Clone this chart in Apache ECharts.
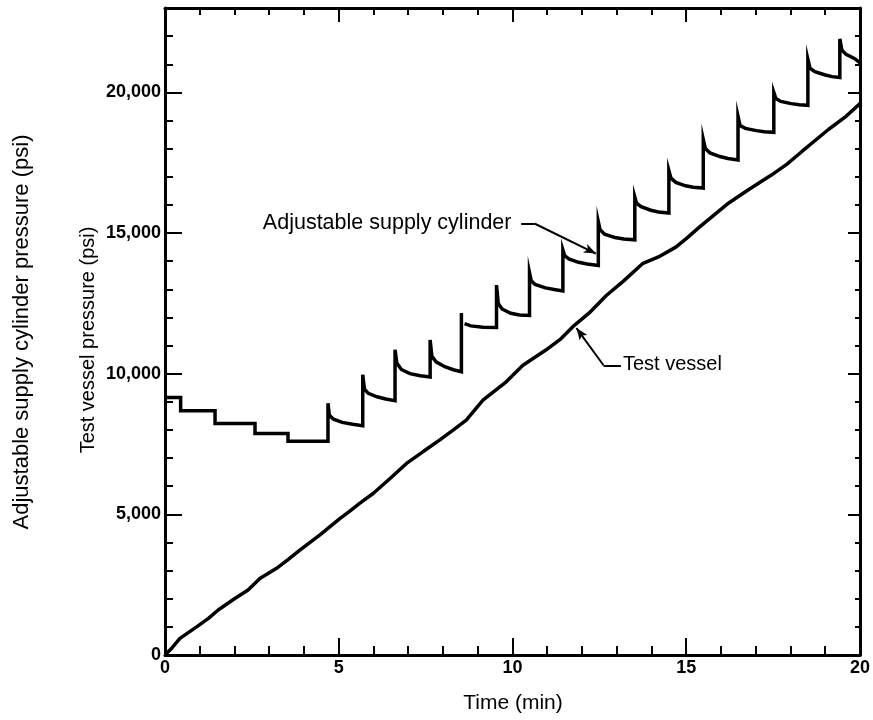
<!DOCTYPE html>
<html>
<head>
<meta charset="utf-8">
<script src="https://cdn.jsdelivr.net/npm/echarts@6/dist/echarts.min.js"></script>
<style>
html,body{margin:0;padding:0;background:#fff;}
#chart{width:873px;height:720px;}
</style>
</head>
<body>
<div id="chart"></div>
<script>
// ---- data (time in min, pressure in psi) ----
const xTickValues = [0, 5, 10, 15, 20];
const xTickLabels = ['0', '5', '10', '15', '20'];
const yTickValues = [0, 5000, 10000, 15000, 20000];
const yTickLabels = ['0', '5,000', '10,000', '15,000', '20,000'];

const supplyTime = [
  0, 0.45, 0.45, 1.44, 1.44, 2.59, 2.59, 3.54, 3.54, 4.69,
  4.69, 4.73, 4.85, 5.1, 5.4, 5.69,
  5.69, 5.74, 5.85, 6.1, 6.35, 6.62,
  6.62, 6.67, 6.8, 7.05, 7.35, 7.63,
  7.63, 7.68, 7.8, 8.05, 8.3, 8.53,
  8.53, null, 8.62, 8.8, 9.15, 9.54,
  9.54, 9.59, 9.7, 9.95, 10.2, 10.49,
  10.49, 10.54, 10.65, 10.95, 11.2, 11.45,
  11.45, 11.5, 11.62, 11.9, 12.15, 12.47,
  12.47, 12.52, 12.65, 12.95, 13.2, 13.52,
  13.52, 13.57, 13.7, 13.98, 14.2, 14.5,
  14.5, 14.56, 14.7, 14.98, 15.2, 15.49,
  15.49, 15.55, 15.68, 15.97, 16.2, 16.49,
  16.49, 16.55, 16.7, 17.02, 17.25, 17.52,
  17.52, 17.58, 17.72, 18.02, 18.25, 18.5,
  18.5, 18.56, 18.7, 19.0, 19.2, 19.42,
  19.42, 19.48, 19.6, 19.85, 20
];
const supplyPressure = [
  9150, 9150, 8680, 8680, 8230, 8230, 7875, 7875, 7600, 7600,
  8950, 8520, 8380, 8270, 8200, 8150,
  9960, 9450, 9300, 9180, 9100, 9040,
  10850, 10380, 10150, 10000, 9930, 9880,
  11200, 10620, 10420, 10250, 10140, 10070,
  12160, null, 11780, 11700, 11650, 11640,
  13150, 12500, 12300, 12150, 12090, 12070,
  13590, 13300, 13170, 13050, 12990, 12940,
  14400, 14200, 14080, 13960, 13900, 13850,
  15400, 15120, 14960, 14840, 14790, 14760,
  16280, 16060, 15940, 15810, 15750, 15710,
  17220, 16950, 16800, 16680, 16630, 16600,
  18330, 18000, 17850, 17720, 17650, 17600,
  19150, 18820, 18720, 18640, 18600, 18580,
  20000, 19780, 19680, 19600, 19560, 19540,
  21180, 20860, 20740, 20620, 20560, 20530,
  21900, 21500, 21350, 21200, 21050
];

const vesselTime = [
  0, 0.2, 0.43, 0.91, 1.25, 1.53, 2.01, 2.39, 2.73, 3.21, 3.55, 3.88, 4.45,
  5.03, 5.3, 5.6, 5.99, 6.5, 6.95, 7.45, 7.9, 8.3, 8.67, 9.15, 9.82, 10.3,
  10.97, 11.4, 11.78, 12.2, 12.7, 13.2, 13.74, 14.2, 14.7, 15.0, 15.37,
  16.18, 16.8, 17.45, 17.9, 18.33, 19.1, 19.6, 20
];
const vesselPressure = [
  0, 250, 590, 1000, 1300, 1600, 2010, 2310, 2720, 3080, 3400, 3730, 4260,
  4850, 5100, 5390, 5740, 6300, 6810, 7250, 7640, 8000, 8350, 9060, 9710, 10300,
  10850, 11250, 11720, 12150, 12780, 13300, 13910, 14150, 14500, 14800, 15200,
  16030, 16550, 17060, 17450, 17900, 18690, 19150, 19600
];

// annotation anchors (data coordinates)
const supplyLabel = { text: 'Adjustable supply cylinder', at: [9.97, 15340] };
const supplyLeader = [[10.25, 15340], [10.63, 15340], [12.40, 14270]];
const vesselLabel = { text: 'Test vessel', at: [13.18, 10340] };
const vesselLeader = [[13.12, 10300], [12.62, 10300], [11.84, 11620]];

// ---- build ----
const supplyData = supplyTime.map((t, i) => (t === null ? [null, null] : [t, supplyPressure[i]]));
const vesselData = vesselTime.map((t, i) => [t, vesselPressure[i]]);

const black = '#000';
const fontMain = '"Liberation Sans", Arial, Helvetica, sans-serif';

function xAx(pos, interval, len, showLine, showLabel) {
  return {
    type: 'value', position: pos, min: 0, max: 20, interval: interval,
    axisLine: { show: showLine, onZero: false, lineStyle: { color: black, width: 3 } },
    axisTick: { show: true, inside: true, length: len, lineStyle: { color: black, width: 2 } },
    axisLabel: {
      show: showLabel, color: black, fontSize: 18, fontWeight: 'bold', fontFamily: fontMain, margin: 4,
      formatter: v => { const i = xTickValues.indexOf(v); return i >= 0 ? xTickLabels[i] : ''; }
    },
    splitLine: { show: false }
  };
}
function yAx(pos, interval, len, showLine, showLabel) {
  return {
    type: 'value', position: pos, min: 0, max: 23000, interval: interval,
    axisLine: { show: showLine, onZero: false, lineStyle: { color: black, width: 3 } },
    axisTick: { show: true, inside: true, length: len, lineStyle: { color: black, width: 2 } },
    axisLabel: {
      show: showLabel, color: black, fontSize: 18, fontWeight: 'bold', fontFamily: fontMain, margin: 4,
      showMaxLabel: false,
      formatter: v => { const i = yTickValues.indexOf(v); return i >= 0 ? yTickLabels[i] : ''; }
    },
    splitLine: { show: false }
  };
}

const chart = echarts.init(document.getElementById('chart'), null, { renderer: 'canvas' });
const option = {
  animation: false,
  backgroundColor: '#fff',
  grid: { left: 165, right: 8, top: 8, bottom: 65, containLabel: false },
  xAxis: [
    xAx('bottom', 5, 17, true, true),
    xAx('bottom', 1, 9, false, false),
    xAx('top', 5, 14, true, false),
    xAx('top', 1, 7, false, false)
  ],
  yAxis: [
    yAx('left', 5000, 17, true, true),
    yAx('left', 1000, 8, false, false),
    yAx('right', 5000, 12, true, false),
    yAx('right', 1000, 5, false, false)
  ],
  series: [
    {
      name: 'Adjustable supply cylinder', type: 'line', data: supplyData,
      xAxisIndex: 0, yAxisIndex: 0, showSymbol: false, connectNulls: false,
      lineStyle: { color: black, width: 3.5, join: 'miter' },
      markLine: {
        silent: true, symbol: ['none', 'none'], label: { show: false },
        lineStyle: { color: black, width: 2, type: 'solid' },
        data: [
          [{ coord: supplyLeader[0], symbol: 'none' }, { coord: supplyLeader[1], symbol: 'none' }],
          [{ coord: supplyLeader[1], symbol: 'none' }, { coord: supplyLeader[2], symbol: 'arrow', symbolSize: [7, 12] }]
        ]
      }
    },
    {
      name: 'Test vessel', type: 'line', data: vesselData,
      xAxisIndex: 0, yAxisIndex: 0, showSymbol: false,
      lineStyle: { color: black, width: 3.5 },
      markLine: {
        silent: true, symbol: ['none', 'none'], label: { show: false },
        lineStyle: { color: black, width: 2, type: 'solid' },
        data: [
          [{ coord: vesselLeader[0], symbol: 'none' }, { coord: vesselLeader[1], symbol: 'none' }],
          [{ coord: vesselLeader[1], symbol: 'none' }, { coord: vesselLeader[2], symbol: 'arrow', symbolSize: [7, 12] }]
        ]
      }
    }
  ]
};
chart.setOption(option);

const toPx = p => chart.convertToPixel({ xAxisIndex: 0, yAxisIndex: 0 }, p);
const sp = toPx(supplyLabel.at);
const vp = toPx(vesselLabel.at);
const gridRect = { left: 165, top: 8, width: 873 - 165 - 8, height: 720 - 8 - 65 };

chart.setOption({
  graphic: [
    { type: 'text', x: sp[0], y: sp[1], style: { text: supplyLabel.text, fill: black, font: '21.5px ' + fontMain, textAlign: 'right', textVerticalAlign: 'middle' } },
    { type: 'text', x: vp[0], y: vp[1], style: { text: vesselLabel.text, fill: black, font: '20px ' + fontMain, textAlign: 'left', textVerticalAlign: 'middle' } },
    { type: 'text', x: 513, y: 703, style: { text: 'Time (min)', fill: black, font: '21px ' + fontMain, textAlign: 'center', textVerticalAlign: 'middle' } },
    { type: 'text', x: 22, y: 332, rotation: Math.PI / 2, style: { text: 'Adjustable supply cylinder pressure (psi)', fill: black, font: '22px ' + fontMain, textAlign: 'center', textVerticalAlign: 'middle' } },
    { type: 'text', x: 88, y: 340, rotation: Math.PI / 2, style: { text: 'Test vessel pressure (psi)', fill: black, font: '20px ' + fontMain, textAlign: 'center', textVerticalAlign: 'middle' } }
  ]
});
</script>
</body>
</html>
